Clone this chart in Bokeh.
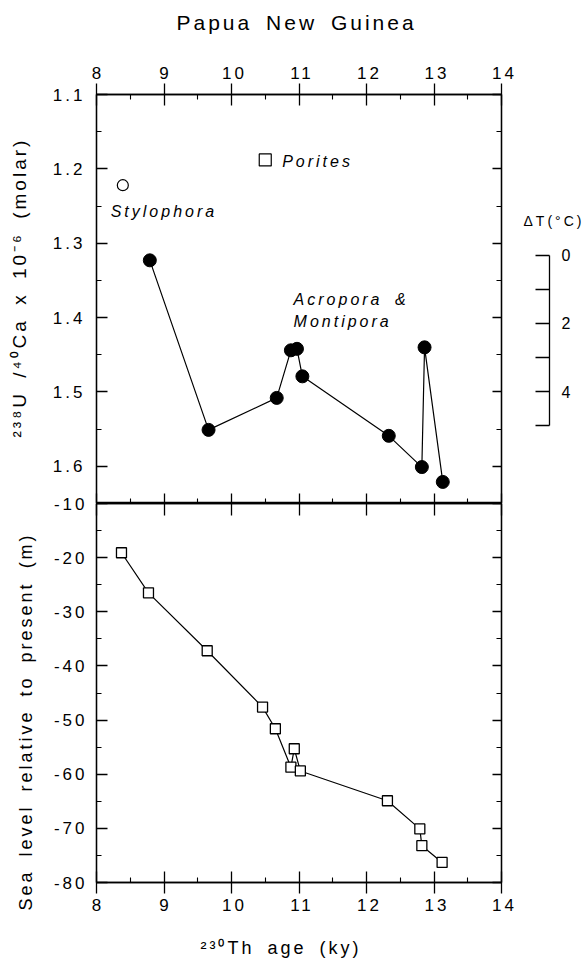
from bokeh.plotting import figure
from bokeh.models import Range1d, LinearAxis, FixedTicker, InlineStyleSheet, Label, Title
from bokeh.layouts import column, row
from bokeh.embed import file_html
from bokeh.resources import INLINE

# ---- data -------------------------------------------------------------
# U/Ca of Acropora & Montipora samples vs 230Th age (ky)
acro_age = [8.79, 9.66, 10.67, 10.88, 10.97, 11.05, 12.33, 12.82, 12.86, 13.13]
acro_uca = [1.323, 1.551, 1.508, 1.444, 1.442, 1.479, 1.559, 1.601, 1.440, 1.621]
# single Stylophora and Porites samples
styl_age = [8.39]
styl_uca = [1.222]
por_age = [10.50]
por_uca = [1.188]

# sea level relative to present (m)
sl_age = [8.37, 8.77, 9.64, 10.46, 10.65, 10.88, 10.93, 11.02, 12.31, 12.79, 12.82, 13.12]
sl_m = [-19.1, -26.5, -37.2, -47.6, -51.6, -58.7, -55.3, -59.4, -64.9, -70.1, -73.2, -76.3]

# tick positions and labels
age_ticks = [8, 9, 10, 11, 12, 13, 14]
age_minor = [8.5, 9.5, 10.5, 11.5, 12.5, 13.5]
uca_ticks = [1.1, 1.2, 1.3, 1.4, 1.5, 1.6]
uca_minor = [1.15, 1.25, 1.35, 1.45, 1.55, 1.65]
sl_ticks = [-10, -20, -30, -40, -50, -60, -70, -80]
sl_minor = [-15, -25, -35, -45, -55, -65, -75]
sl_labels = ["-10", "-20", "-30", "-40", "-50", "-60", "-70", "-80"]
dt_ticks = [0, 1, 2, 3, 4, 5]
dt_labels = ["0", "", "2", "", "4", ""]

FONT = "Liberation Sans"
spaced = InlineStyleSheet(css=":host { letter-spacing: 3px; word-spacing: 5px; }")


def frame_axis(ax, ticks, minor, t_in=11, t_out=0, m_in=5, labels=True, size="17px"):
    ax.ticker = FixedTicker(ticks=ticks, minor_ticks=minor)
    ax.major_tick_in = t_in
    ax.major_tick_out = t_out
    ax.minor_tick_in = m_in
    ax.minor_tick_out = 0
    ax.axis_line_color = "black"
    ax.axis_line_width = 1.3
    ax.major_tick_line_color = "black"
    ax.major_tick_line_width = 1.3
    ax.minor_tick_line_color = "black"
    ax.minor_tick_line_width = 1.1
    ax.major_label_text_font = FONT
    ax.major_label_text_font_style = "normal"
    if labels:
        ax.major_label_text_font_size = size
        ax.major_label_text_color = "black"
    else:
        ax.major_label_text_font_size = "0px"
        ax.major_label_text_color = None
        ax.major_label_standoff = 0


def gap(px, at):
    """An axis with nothing drawn that only reserves px pixels in a side panel."""
    return LinearAxis(ticker=FixedTicker(ticks=[at], minor_ticks=[]), major_tick_out=px,
                      major_tick_in=0, minor_tick_out=0, minor_tick_in=0, axis_line_color=None,
                      major_tick_line_color=None, minor_tick_line_color=None,
                      major_label_text_font_size="0px", major_label_text_color=None,
                      major_label_standoff=0)


def base(p):
    p.grid.visible = False
    p.outline_line_color = "black"
    p.outline_line_width = 1.3
    p.background_fill_color = "white"
    p.border_fill_color = "white"
    p.stylesheets = [spaced]


def side_title(text, offset, size="18px"):
    return Title(text=text, align="left", offset=offset, standoff=0,
                 text_font=FONT, text_font_size=size, text_font_style="normal",
                 text_color="black")


# ---- upper panel: U/Ca ------------------------------------------------
p1 = figure(width=520, height=503, x_range=Range1d(8, 14), y_range=Range1d(1.65, 1.1),
            x_axis_location="above", output_backend="svg", toolbar_location=None,
            min_border_left=96, min_border_right=19, min_border_top=94, min_border_bottom=0)
base(p1)
p1.title.visible = False

frame_axis(p1.xaxis[0], age_ticks, age_minor, t_in=11, t_out=11)
p1.xaxis[0].major_label_standoff = 5
p1.add_layout(gap(30, 11), "above")
p1.add_layout(side_title("Papua New Guinea", 80, size="21px"), "above")

frame_axis(p1.yaxis[0], uca_ticks, uca_minor)
p1.yaxis[0].major_label_standoff = 20
p1.add_layout(gap(20, 1.3), "left")
p1.add_layout(side_title("²³⁸U /⁴⁰Ca x 10⁻⁶ (molar)", 66, size="19px"), "left")

bottom1 = LinearAxis()
frame_axis(bottom1, age_ticks, age_minor, t_in=10, labels=False)
p1.add_layout(bottom1, "below")
right1 = LinearAxis()
frame_axis(right1, uca_ticks, uca_minor, t_in=9, labels=False)
p1.add_layout(right1, "right")

p1.line(acro_age, acro_uca, line_color="black", line_width=1.2)
p1.scatter(acro_age, acro_uca, marker="circle", size=13, fill_color="black", line_color="black")
p1.scatter(styl_age, styl_uca, marker="circle", size=11, fill_color="white", line_color="black", line_width=1.2)
p1.scatter(por_age, por_uca, marker="square", size=12, fill_color="white", line_color="black", line_width=1.2)

for txt, x, y in [("Porites", 10.75, 1.190), ("Stylophora", 8.21, 1.258),
                  ("Acropora &", 10.92, 1.376), ("Montipora", 10.92, 1.405)]:
    p1.add_layout(Label(x=x, y=y, text=txt, text_font=FONT, text_font_size="16px",
                        text_font_style="italic", text_align="left", text_baseline="middle",
                        text_color="black"))

# ---- temperature scale beside the upper panel --------------------------
# x in pixels from the left edge of this strip; y in degrees C
pdt = figure(width=67, height=503, x_range=Range1d(0, 67), y_range=Range1d(7.294, -4.735),
             x_axis_location=None, y_axis_location=None, output_backend="svg",
             toolbar_location=None, min_border_left=0, min_border_right=0,
             min_border_top=94, min_border_bottom=0)
base(pdt)
pdt.outline_line_color = None
dt_axis = LinearAxis(fixed_location=29)
frame_axis(dt_axis, dt_ticks, [], t_in=14, m_in=0, size="16px")
dt_axis.bounds = (0, 5)
dt_axis.major_label_overrides = {t: l for t, l in zip(dt_ticks, dt_labels)}
dt_axis.major_label_standoff = 12
pdt.add_layout(dt_axis, "right")
pdt.add_layout(Label(x=3, y=-1.0, text="ΔT(°C)", text_font=FONT, text_font_size="14px",
                     text_align="left", text_baseline="middle", text_color="black"))

# ---- lower panel: sea level ------------------------------------------
p2 = figure(width=587, height=471, x_range=Range1d(8, 14), y_range=Range1d(-80, -10),
            output_backend="svg", toolbar_location=None,
            min_border_left=96, min_border_right=86, min_border_top=14, min_border_bottom=78)
base(p2)
p2.border_fill_color = None
p2.margin = (-14, 0, 0, 0)

frame_axis(p2.xaxis[0], age_ticks, age_minor, t_in=11, t_out=11)
p2.xaxis[0].major_label_standoff = 5
p2.add_layout(gap(22, 11), "below")
p2.add_layout(side_title("²³⁰Th age (ky)", 104), "below")

frame_axis(p2.yaxis[0], sl_ticks, sl_minor)
p2.yaxis[0].major_label_overrides = {t: l for t, l in zip(sl_ticks, sl_labels)}
p2.yaxis[0].major_label_standoff = 18
p2.add_layout(gap(15, -40), "left")
p2.add_layout(side_title("Sea level relative to present (m)", -28), "left")

top2 = LinearAxis()
frame_axis(top2, age_ticks, [], t_in=12, m_in=0, labels=False)
p2.add_layout(top2, "above")
right2 = LinearAxis()
frame_axis(right2, sl_ticks, sl_minor, t_in=9, labels=False)
p2.add_layout(right2, "right")

p2.line(sl_age, sl_m, line_color="black", line_width=1.2)
p2.scatter(sl_age, sl_m, marker="square", size=10, fill_color="white", line_color="black", line_width=1.3)

layout = column(row(p1, pdt), p2)
open("out.html", "w").write(file_html(layout, INLINE))
